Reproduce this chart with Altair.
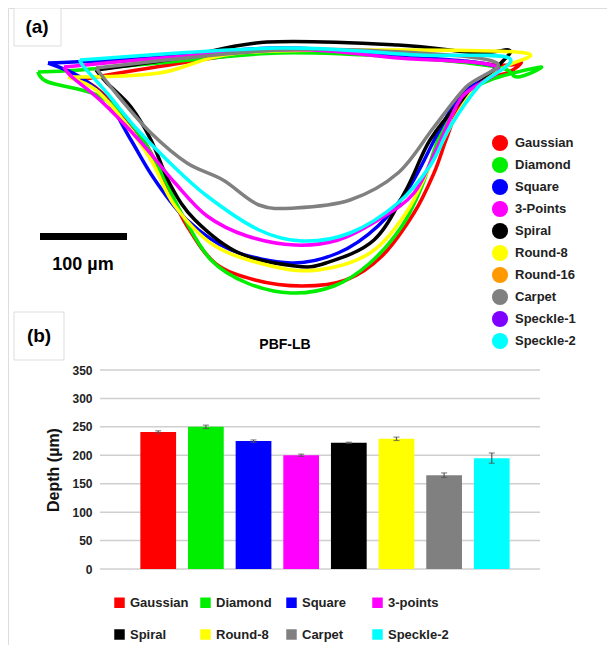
import altair as alt
import pandas as pd

# ---- panel (a): melt-pool contours, traced in image pixels ----
contours = {
    "Gaussian": (
        [80, 150, 265, 380, 500, 521, 509, 478, 458, 446, 434, 414, 382, 346, 302, 255, 215, 187, 167, 147, 119, 95, 80],
        [80, 68, 52, 55, 65, 62, 72, 83, 110, 140, 173, 213, 256, 280, 286, 280, 263, 226, 186, 146, 110, 87, 80],
    ),
    "Diamond": (
        [38, 48, 92, 119, 143, 163, 183, 211, 247, 291, 334, 370, 402, 422, 438, 458, 490, 541, 517, 497, 398, 279, 159, 80, 38],
        [72, 82, 93, 110, 140, 176, 216, 260, 283, 293, 286, 263, 226, 186, 140, 100, 80, 67, 77, 67, 57, 53, 63, 70, 72],
    ),
    "Square": (
        [48, 80, 107, 131, 155, 187, 231, 291, 338, 378, 410, 438, 462, 497, 398, 279, 150, 48],
        [63, 77, 100, 140, 180, 220, 250, 263, 253, 226, 186, 133, 93, 67, 56, 48, 58, 63],
    ),
    "Spiral": (
        [96, 179, 267, 398, 478, 509, 501, 462, 430, 406, 374, 326, 295, 239, 195, 171, 151, 131, 107, 96],
        [70, 58, 42, 45, 53, 50, 63, 100, 140, 190, 240, 263, 266, 253, 220, 186, 140, 107, 83, 70],
    ),
    "Round-8": (
        [68, 159, 239, 398, 525, 505, 474, 450, 430, 406, 370, 318, 271, 215, 175, 151, 123, 96, 68],
        [77, 73, 53, 50, 53, 67, 90, 127, 166, 213, 253, 270, 266, 246, 206, 160, 120, 90, 77],
    ),
    "3-Points": (
        [64, 279, 398, 497, 462, 438, 414, 378, 338, 295, 247, 207, 175, 139, 100, 72, 64],
        [67, 50, 58, 67, 97, 146, 193, 220, 240, 245, 236, 216, 183, 140, 100, 77, 67],
    ),
    "Carpet": (
        [96, 279, 418, 497, 466, 434, 398, 350, 295, 259, 223, 187, 151, 119, 96],
        [68, 50, 53, 63, 87, 127, 173, 200, 208, 205, 180, 163, 133, 97, 68],
    ),
    "Speckle-2": (
        [80, 279, 418, 509, 478, 450, 430, 398, 350, 302, 259, 207, 167, 135, 107, 84, 80],
        [60, 48, 55, 58, 87, 127, 166, 203, 233, 241, 230, 196, 160, 127, 93, 67, 60],
    ),
}

legend_a = ["Gaussian", "Diamond", "Square", "3-Points", "Spiral", "Round-8",
            "Round-16", "Carpet", "Speckle-1", "Speckle-2"]
colors_a = ["#ff0000", "#00ee00", "#0000ff", "#ff00ff", "#000000", "#ffff00",
            "#ff9900", "#808080", "#7f00ff", "#00ffff"]

# ---- panel (b): PBF-LB depth ----
methods = ["Gaussian", "Diamond", "Square", "3-points", "Spiral", "Round-8", "Carpet", "Speckle-2"]
depth = [241, 250, 225, 200, 222, 229, 165, 195]
err = [2, 3, 2, 2, 1, 3, 4, 9]
colors_b = ["#ff0000", "#00ee00", "#0000ff", "#ff00ff", "#000000", "#ffff00", "#808080", "#00ffff"]
y_ticks = [0, 50, 100, 150, 200, 250, 300, 350]

FONT = "Liberation Sans"

rows = []
for name, (xs, ys) in contours.items():
    for i, (x, y) in enumerate(zip(xs, ys)):
        rows.append({"series": name, "i": i, "px": x, "py": y})
cdf = pd.DataFrame(rows)

W, H = 599, 637
xs_pix = alt.Scale(domain=[8, 8 + W], nice=False, zero=False)
ys_pix = alt.Scale(domain=[8 + H, 8], nice=False, zero=False)
color_a = alt.Scale(domain=legend_a, range=colors_a)

lines = alt.Chart(cdf).mark_line(strokeWidth=3.5, interpolate="cardinal").encode(
    x=alt.X("px:Q", scale=xs_pix, axis=None),
    y=alt.Y("py:Q", scale=ys_pix, axis=None),
    detail="series:N",
    order="i:Q",
    color=alt.Color("series:N", scale=color_a, legend=None),
)
# invisible points that only carry the filled-circle legend
legend_pts = alt.Chart(cdf).mark_circle(opacity=0).encode(
    x=alt.X("px:Q", scale=xs_pix, axis=None),
    y=alt.Y("py:Q", scale=ys_pix, axis=None),
    fill=alt.Fill(
        "series:N", scale=color_a,
        legend=alt.Legend(
            title=None, orient="none", legendX=483, legendY=126,
            symbolType="circle", symbolSize=260, symbolOpacity=1,
            labelFont=FONT, labelFontSize=13, labelFontWeight="bold",
            labelColor="#222", rowPadding=4, labelOffset=6,
        ),
    ),
)
panel_a = alt.layer(lines, legend_pts).resolve_scale(color="independent", fill="independent")

bdf = pd.DataFrame({"method": methods, "depth": depth, "err": err})
bdf["lo"] = bdf["depth"] - bdf["err"]
bdf["hi"] = bdf["depth"] + bdf["err"]

xb = alt.Scale(domain=methods, range=[99, 535], paddingInner=0.25, paddingOuter=0.7)
yb = alt.Scale(domain=[0, 350], range=[561, 362], nice=False)

grid = alt.Chart(pd.DataFrame({"t": y_ticks})).mark_rule(color="#cfcfcf", strokeWidth=1.5).encode(
    y=alt.Y("t:Q", scale=yb, axis=alt.Axis(
        values=y_ticks, offset=-86, domain=False, ticks=False, grid=False,
        labelFont=FONT, labelFontSize=12, labelFontWeight="bold", labelColor="#222",
        title="Depth (µm)", titleFont=FONT, titleFontSize=16, titleFontWeight="bold",
        titleColor="#111", titlePadding=10,
    )),
    x=alt.value(92), x2=alt.value(532),
)
bars = alt.Chart(bdf).mark_bar().encode(
    x=alt.X("method:N", sort=methods, scale=xb, axis=None),
    y=alt.Y("depth:Q", scale=yb),
    color=alt.Color(
        "method:N", sort=methods,
        scale=alt.Scale(domain=methods, range=colors_b),
        legend=alt.Legend(
            title=None, orient="none", legendX=105, legendY=588, columns=4,
            direction="horizontal",
            symbolType="square", symbolSize=110, symbolStrokeWidth=0,
            labelFont=FONT, labelFontSize=13, labelFontWeight="bold", labelColor="#222",
            rowPadding=18, columnPadding=8, gridAlign="all", labelOffset=4,
        ),
    ),
)
ebars = alt.Chart(bdf).mark_errorbar(ticks={"size": 6}, color="#555", thickness=1.2).encode(
    x=alt.X("method:N", sort=methods, scale=xb),
    y=alt.Y("lo:Q", scale=yb, title=""),
    y2="hi:Q",
)
panel_b = alt.layer(grid, bars, ebars)

ann = pd.DataFrame({"t": ["(a)", "(b)", "PBF-LB", "100 µm"]})
box_a = alt.Chart(ann.head(1)).mark_rect(fill="white", stroke="#dddddd").encode(
    x=alt.value(6), x2=alt.value(53), y=alt.value(0), y2=alt.value(38))
box_b = alt.Chart(ann.head(1)).mark_rect(fill="white", stroke="#dddddd").encode(
    x=alt.value(6), x2=alt.value(56), y=alt.value(304), y2=alt.value(352))
txt_a = alt.Chart(ann.iloc[[0]]).mark_text(font=FONT, fontSize=19, fontWeight="bold").encode(
    x=alt.value(29), y=alt.value(19), text="t:N")
txt_b = alt.Chart(ann.iloc[[1]]).mark_text(font=FONT, fontSize=19, fontWeight="bold").encode(
    x=alt.value(31), y=alt.value(328), text="t:N")
title_b = alt.Chart(ann.iloc[[2]]).mark_text(font=FONT, fontSize=14, fontWeight="bold").encode(
    x=alt.value(277), y=alt.value(337), text="t:N")
scale_bar = alt.Chart(ann.iloc[[3]]).mark_rect(color="black").encode(
    x=alt.value(32), x2=alt.value(119), y=alt.value(225), y2=alt.value(232))
scale_txt = alt.Chart(ann.iloc[[3]]).mark_text(font=FONT, fontSize=18, fontWeight="bold").encode(
    x=alt.value(75), y=alt.value(257), text="t:N")

chart = (
    alt.layer(panel_a, panel_b, box_a, box_b, txt_a, txt_b, title_b, scale_bar, scale_txt)
    .resolve_scale(x="independent", y="independent", color="independent", fill="independent")
    .properties(width=W, height=H, padding=0, autosize=alt.AutoSizeParams(type="none"))
    .configure_view(stroke=None)
    .configure(background="white")
)

chart.save("out.html", embed_options={"renderer": "svg", "actions": False})
